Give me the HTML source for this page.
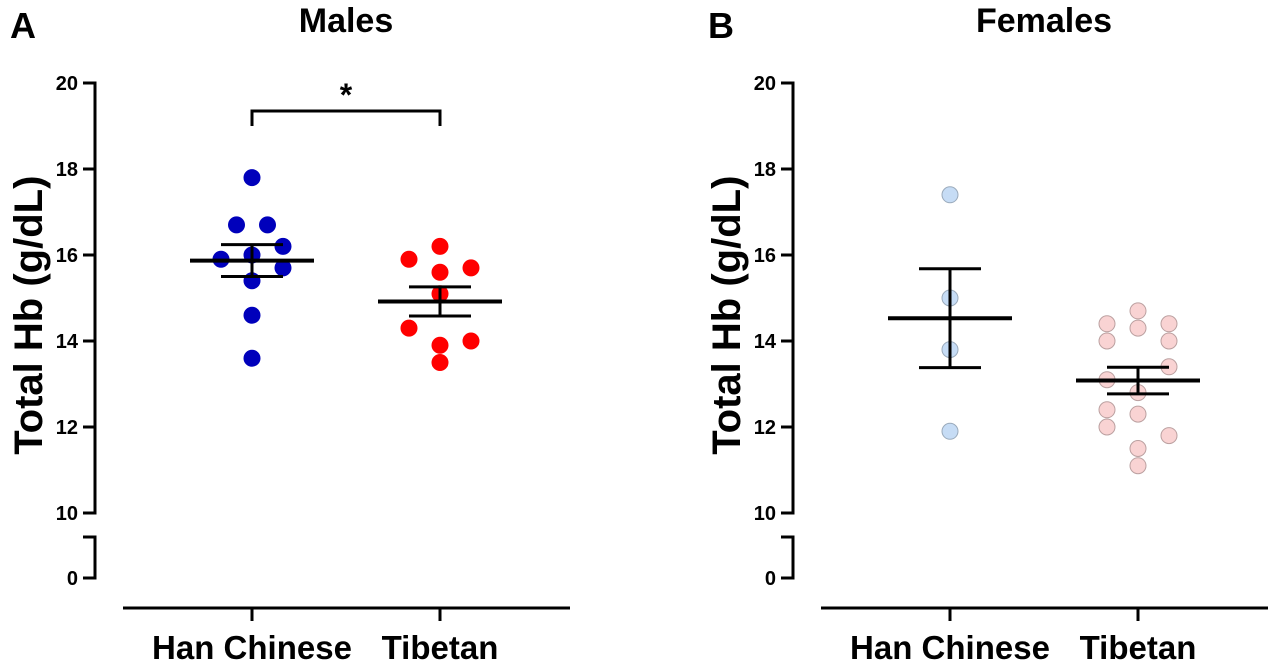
<!DOCTYPE html>
<html><head><meta charset="utf-8"><style>
body{margin:0;background:#fff;}
svg text{font-family:"Liberation Sans",Arial,sans-serif;font-weight:bold;fill:#000;}
</style></head><body>
<svg id="c" width="1271" height="664" viewBox="0 0 1271 664"></svg>
<script>
const categories=["Han Chinese","Tibetan"];
const yTicks=[10,12,14,16,18,20];
const maleHan=[17.8,16.7,16.7,16.2,15.9,16.0,15.7,15.4,14.6,13.6];
const maleHanJit=[0,-1,1,2,-2,0,2,0,0,0];
const maleTib=[16.2,15.9,15.7,15.6,15.1,14.3,14.0,13.9,13.5];
const maleTibJit=[0,-2,2,0,0,-2,2,0,0];
const maleMean=[15.87,14.92];
const maleSem=[0.37,0.34];
const femHan=[17.4,15.0,13.8,11.9];
const femHanJit=[0,0,0,0];
const femTib=[14.4,14.0,13.1,12.4,12.0,14.7,14.3,12.8,12.3,11.5,11.1,14.4,14.0,13.4,11.8];
const femTibJit=[-2,-2,-2,-2,-2,0,0,0,0,0,0,2,2,2,2];
const femMean=[14.53,13.08];
const femSem=[1.15,0.31];

const svg=document.getElementById('c');
const NS='http://www.w3.org/2000/svg';
function mk(t,a,p){const e=document.createElementNS(NS,t);for(const k in a)e.setAttribute(k,a[k]);(p||svg).appendChild(e);return e;}
const y=v=>513-(v-10)*43;

function panel(ox,letter,title,han,hanJ,tib,tibJ,mean,sem,cols,pname){
  const g=mk('g',{});
  
  
  const ax=ox+95, x0=ox+252, x1=ox+440;
  const xs=[x0,x1];
  let t=mk('text',{x:ox+10,y:38,'font-size':36},g);t.textContent=letter;
  
  t=mk('text',{x:ox+346,y:32,'font-size':34,'text-anchor':'middle'},g);t.textContent=title;
  
  t=mk('text',{x:0,y:0,'font-size':40,'text-anchor':'middle',transform:`translate(${ox+42},${y(14.6)}) rotate(-90)`},g);t.textContent='Total Hb (g/dL)';
  
  let l=mk('path',{d:`M${ax-12},${y(20)}H${ax}V${y(10)}H${ax-12}`,stroke:'#000','stroke-width':3,fill:'none'},g);
  
  l=mk('path',{d:`M${ax-12},537H${ax}V578H${ax-12}`,stroke:'#000','stroke-width':3,fill:'none'},g);
  
  yTicks.forEach(v=>{
    const tk=mk('line',{x1:ax-12,x2:ax,y1:y(v),y2:y(v),stroke:'#000','stroke-width':3},g);
    
    const tl=mk('text',{x:ax-17,y:y(v)+7,'font-size':20,'text-anchor':'end'},g);tl.textContent=v;
    
  });
  const z=mk('text',{x:ax-17,y:585,'font-size':20,'text-anchor':'end'},g);z.textContent='0';
  
  l=mk('line',{x1:ox+123,x2:ox+570,y1:608,y2:608,stroke:'#000','stroke-width':3},g);
  
  categories.forEach((c,i)=>{
    const tk=mk('line',{x1:xs[i],x2:xs[i],y1:608,y2:621,stroke:'#000','stroke-width':3},g);
    
    const tl=mk('text',{x:xs[i],y:659,'font-size':33,'text-anchor':'middle'},g);tl.textContent=c;
    
  });
  [[han,hanJ,cols[0]],[tib,tibJ,cols[1]]].forEach((s,i)=>{
    s[0].forEach((v,j)=>{
      const d=mk('circle',{cx:xs[i]+s[1][j]*15.5,cy:y(v),r:8,fill:s[2][0],stroke:s[2][1],'stroke-width':1},g);
      
      
    });
  });
  mean.forEach((m,i)=>{
    const ml=mk('line',{x1:xs[i]-62,x2:xs[i]+62,y1:y(m),y2:y(m),stroke:'#000','stroke-width':4},g);
    
    const e=mk('path',{d:`M${xs[i]-31},${y(m+sem[i])}H${xs[i]+31}M${xs[i]},${y(m+sem[i])}V${y(m-sem[i])}M${xs[i]-31},${y(m-sem[i])}H${xs[i]+31}`,stroke:'#000','stroke-width':3,fill:'none'},g);
    
  });
  return {g,xs};
}
const A=panel(0,'A','Males',maleHan,maleHanJit,maleTib,maleTibJit,maleMean,maleSem,[['#0000bb','#0000bb'],['#ff0000','#ff0000']],'males-panel');
const br=mk('path',{d:`M${A.xs[0]},126V111H${A.xs[1]}V126`,stroke:'#000','stroke-width':3,fill:'none'},A.g);

const st=mk('text',{x:346,y:106,'font-size':32,'text-anchor':'middle'},A.g);st.textContent='*';

panel(698,'B','Females',femHan,femHanJit,femTib,femTibJit,femMean,femSem,[['#c6dcf5','#9aaabb'],['#f9d3d3','#bba0a0']],'females-panel');
</script>
</body></html>
